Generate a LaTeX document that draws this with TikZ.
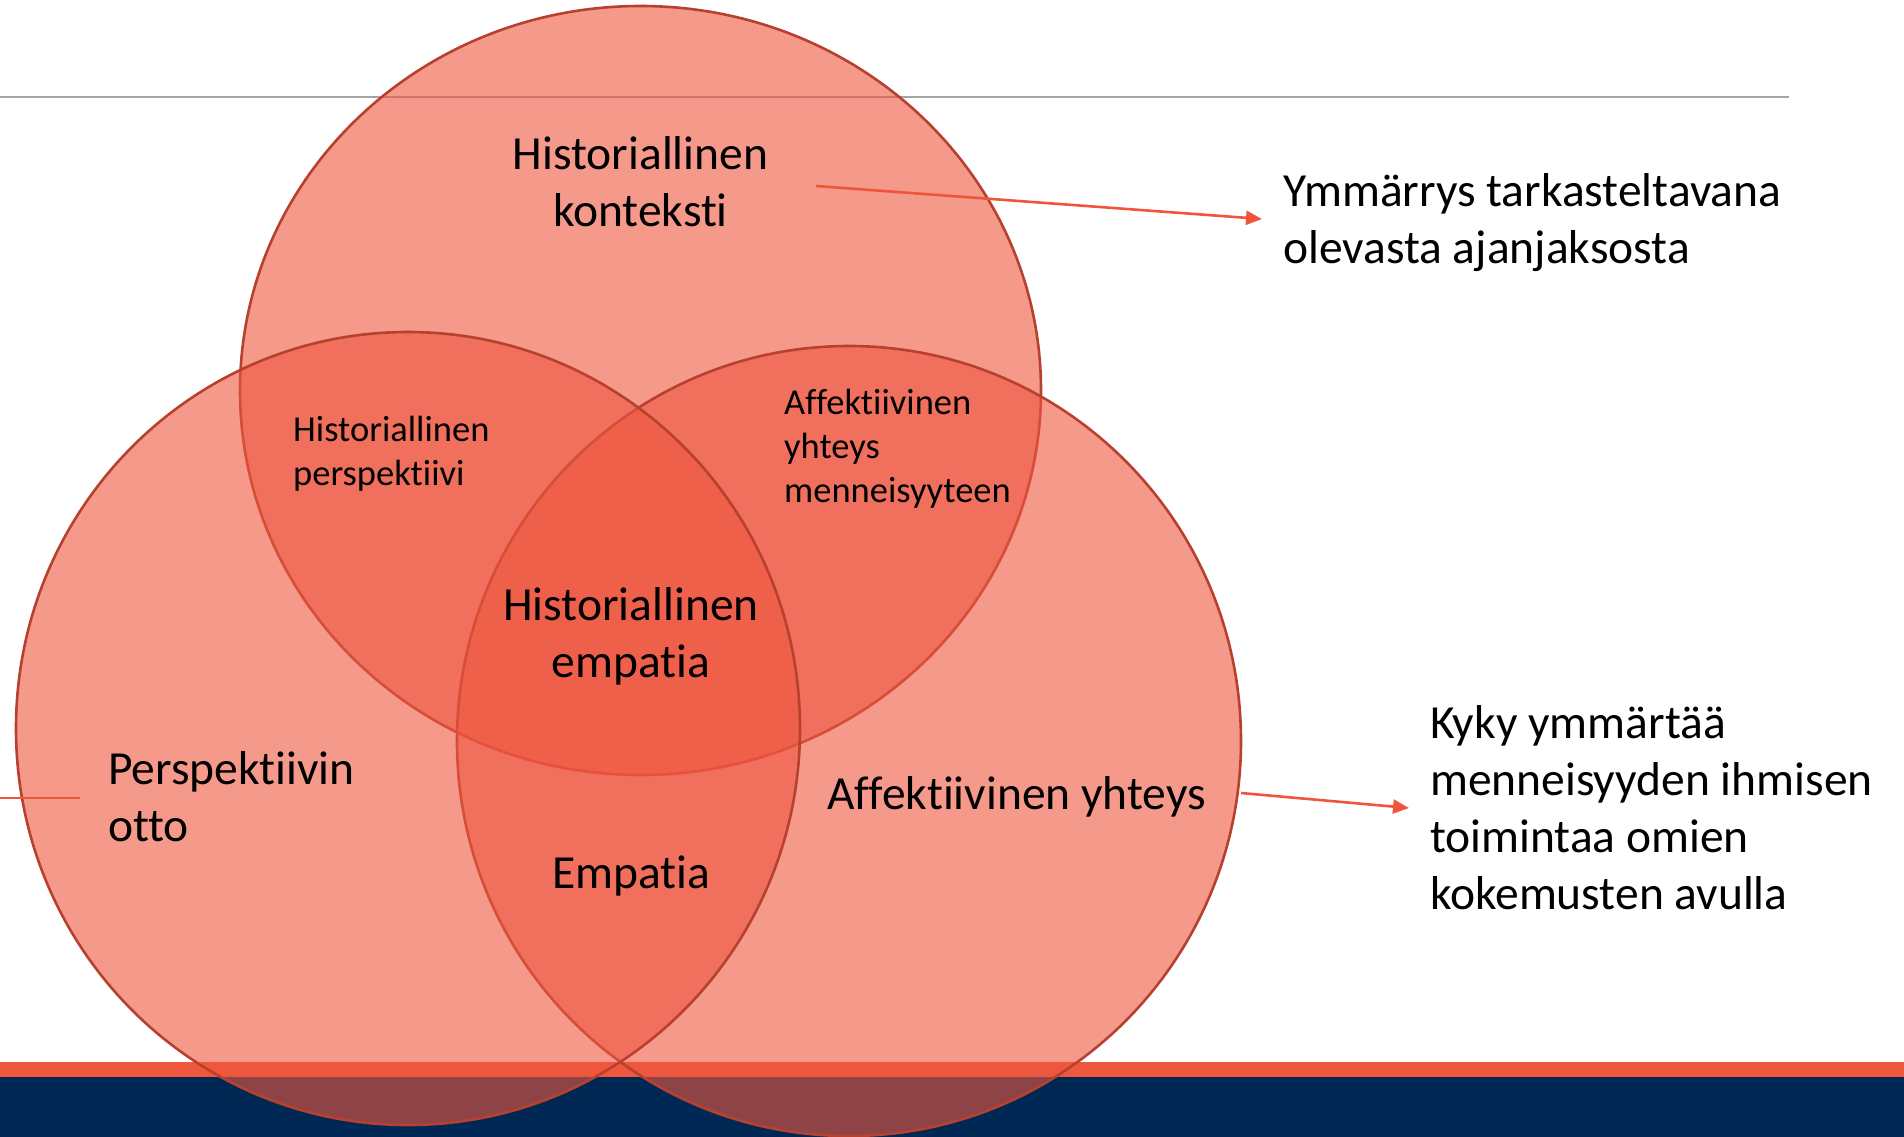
\documentclass[tikz,border=0pt]{standalone}
\usepackage{fontspec}
\setmainfont{Carlito}[Ligatures={NoCommon}]
\usetikzlibrary{arrows.meta}
\definecolor{vennfill}{RGB}{238,85,62}
\definecolor{vennline}{RGB}{183,65,46}
\definecolor{bandorange}{RGB}{240,88,62}
\definecolor{bandnavy}{RGB}{0,40,85}
\definecolor{rulegray}{RGB}{165,165,165}
\definecolor{arrowred}{RGB}{240,85,60}
\newcommand\vennbig{\fontsize{47.5}{57}\selectfont}
\newcommand\vennsmall{\fontsize{36.5}{44}\selectfont}
\tikzset{
  vennset/.style={fill=vennfill, fill opacity=0.6, draw=vennline, draw opacity=1, line width=2.6pt},
  bigleft/.style={anchor=base west, inner sep=0pt, font=\vennbig},
  bigcenter/.style={anchor=base, inner sep=0pt, font=\vennbig},
  smallleft/.style={anchor=base west, inner sep=0pt, font=\vennsmall},
  pointer/.style={draw=arrowred, line width=2.6pt, -{Triangle[length=16pt,width=14pt]}},
  plainpointer/.style={draw=arrowred, line width=2.8pt},
}
\begin{document}
\begin{tikzpicture}[x=1pt,y=-1pt]
\useasboundingbox (0,0) rectangle (1904,1137);
% bands
\fill[bandorange] (0,1062) rectangle (1904,1077);
\fill[bandnavy] (0,1077) rectangle (1904,1137);
% top rule
\draw[rulegray, line width=1.8pt] (0,97) -- (1789,97);
% circles
\draw[vennset] (640.5,390.5) ellipse [x radius=400.5, y radius=384.5];
\draw[vennset] (849,741) ellipse [x radius=392, y radius=395];
\draw[vennset] (408,728.5) ellipse [x radius=392, y radius=396.5];
% labels
\node[bigcenter] (konteksti) at (640.5,170) {\begin{tabular}[t]{@{}c@{}}Historiallinen\\konteksti\end{tabular}};
\node[smallleft] (perspektiivi) at (293,441) {\begin{tabular}[t]{@{}l@{}}Historiallinen\\perspektiivi\end{tabular}};
\node[smallleft] (yhteysmenn) at (784,414) {\begin{tabular}[t]{@{}l@{}}Affektiivinen\\yhteys\\menneisyyteen\end{tabular}};
\node[bigcenter] (empatiahist) at (631,620) {\begin{tabular}[t]{@{}c@{}}Historiallinen\\empatia\end{tabular}};
\node[bigleft] (otto) at (108,784) {\begin{tabular}[t]{@{}l@{}}Perspektiivin\\otto\end{tabular}};
\node[bigleft] (affyhteys) at (827,809) {Affektiivinen yhteys};
\node[bigcenter] (empatia) at (631,888) {Empatia};
\node[bigleft] (ymmarrys) at (1283,207) {\begin{tabular}[t]{@{}l@{}}Ymmärrys tarkasteltavana\\olevasta ajanjaksosta\end{tabular}};
\node[bigleft] (kyky) at (1430,738.5) {\begin{tabular}[t]{@{}l@{}}Kyky ymmärtää\\menneisyyden ihmisen\\toimintaa omien\\kokemusten avulla\end{tabular}};
% connectors
\coordinate (kontekstiA) at (816,186);
\coordinate (ymmarrysB) at (1262,219);
\coordinate (affA) at (1241,793);
\coordinate (kykyB) at (1409,808);
\coordinate (leftA) at (0,798);
\coordinate (leftB) at (80,798);
\draw[pointer] (kontekstiA) -- (ymmarrysB);
\draw[pointer] (affA) -- (kykyB);
\draw[plainpointer] (leftA) -- (leftB);
\end{tikzpicture}
\end{document}
